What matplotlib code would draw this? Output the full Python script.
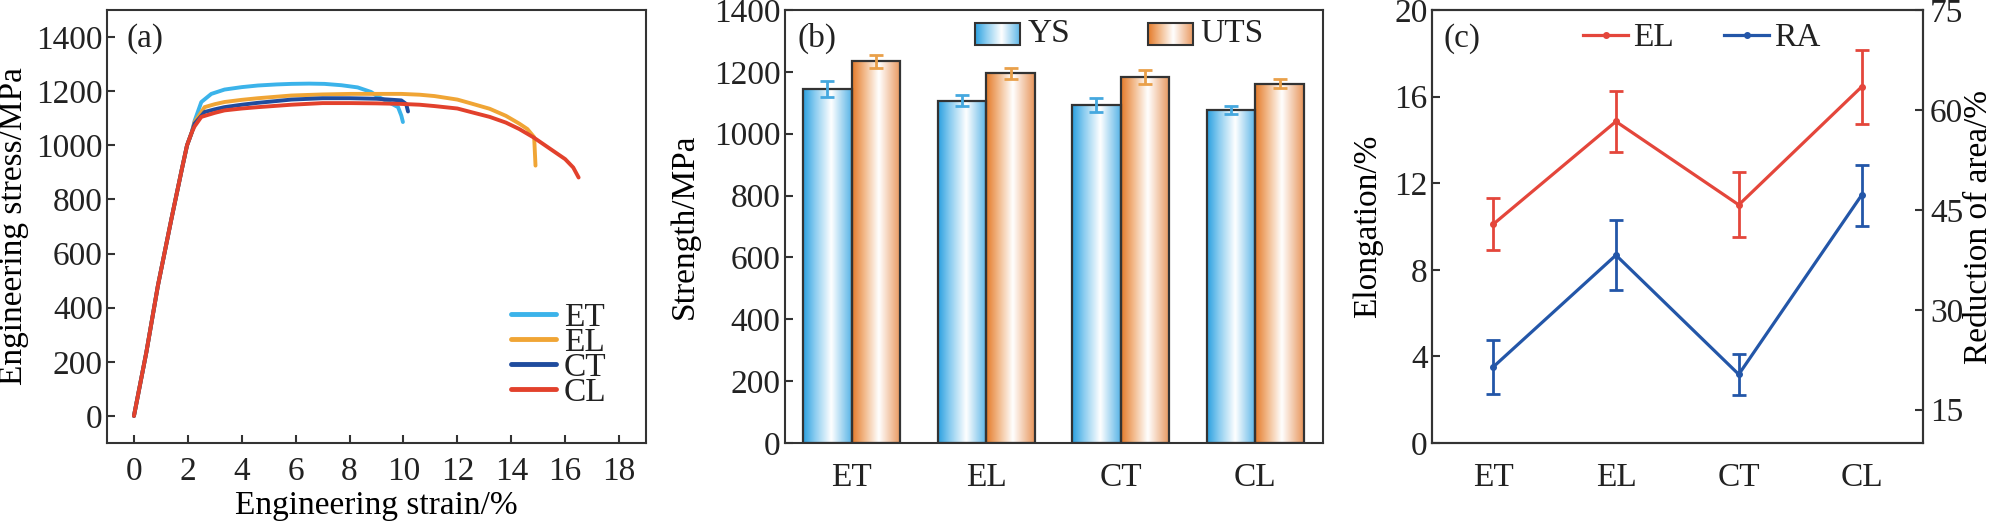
import numpy as np
import matplotlib
matplotlib.use("Agg")
import matplotlib.pyplot as plt
from matplotlib.colors import LinearSegmentedColormap
from matplotlib.patches import Rectangle
from matplotlib.lines import Line2D

plt.rcParams['font.family'] = ['Liberation Serif', 'DejaVu Serif']
plt.rcParams['font.size'] = 24
plt.rcParams['axes.linewidth'] = 1.5
plt.rcParams['axes.edgecolor'] = '#333333'
plt.rcParams['xtick.direction'] = 'in'
plt.rcParams['ytick.direction'] = 'in'
plt.rcParams['text.color'] = '#222222'
plt.rcParams['xtick.color'] = '#333333'
plt.rcParams['ytick.color'] = '#333333'
plt.rcParams['xtick.labelcolor'] = '#222222'
plt.rcParams['ytick.labelcolor'] = '#222222'

# ---------------- data (a) ----------------
elastic_strain = [0.0, 0.46, 0.89, 1.39, 1.78, 1.97, 2.15]
elastic_stress = [0, 235, 482, 728, 913, 1000, 1049]

et_strain = [2.25, 2.5, 2.87, 3.36, 4.0, 4.6, 5.3, 5.84, 6.5, 7.07, 7.7, 8.3, 8.8, 9.05, 9.4, 9.8, 9.92, 9.98]
et_stress = [1090, 1160, 1190, 1206, 1215, 1221, 1225, 1227, 1228, 1227, 1222, 1214, 1197, 1180, 1162, 1141, 1110, 1086]

el_strain = [2.25, 2.62, 3.0, 3.36, 4.0, 4.6, 5.84, 7.0, 8.06, 9.0, 9.92, 10.6, 11.15, 12.0, 12.5, 13.2, 13.8, 14.3, 14.6, 14.85, 14.9]
el_stress = [1085, 1141, 1152, 1160, 1168, 1174, 1184, 1188, 1190, 1190, 1190, 1187, 1182, 1169, 1155, 1135, 1109, 1080, 1060, 1030, 925]

ct_strain = [2.25, 2.62, 3.0, 3.36, 4.0, 4.6, 5.84, 7.0, 8.0, 9.0, 9.92, 10.1, 10.17]
ct_stress = [1080, 1123, 1133, 1141, 1150, 1157, 1169, 1174, 1174, 1172, 1166, 1153, 1125]

cl_strain = [2.25, 2.5, 3.0, 3.36, 4.0, 4.6, 5.84, 7.0, 8.06, 9.0, 9.92, 10.6, 11.15, 12.0, 12.5, 13.2, 13.8, 14.3, 14.83, 15.4, 16.0, 16.3, 16.5]
cl_stress = [1070, 1105, 1120, 1129, 1136, 1141, 1150, 1156, 1156, 1155, 1153, 1150, 1145, 1136, 1123, 1105, 1084, 1060, 1029, 990, 949, 918, 881]

curve_names = ['ET', 'EL', 'CT', 'CL']
curve_colors = ['#3bb3ea', '#f0a535', '#1f4c9e', '#e2412c']

# ---------------- data (b) ----------------
categories = ['ET', 'EL', 'CT', 'CL']
ys_values = [1145, 1107, 1093, 1077]
ys_errors = [25, 18, 23, 14]
uts_values = [1234, 1195, 1183, 1162]
uts_errors = [22, 17, 22, 14]

# ---------------- data (c) ----------------
elong_values = [10.1, 14.85, 11.0, 16.45]
elong_errors = [1.2, 1.4, 1.5, 1.7]
ra_values = [21.4, 38.2, 20.3, 47.2]
ra_errors = [4.0, 5.3, 3.05, 4.6]

# ---------------- figure ----------------
fig = plt.figure(figsize=(19.94, 5.21), dpi=100)
ax_a = fig.add_axes([107/1994, 1-443/521, 539/1994, 433/521])
ax_b = fig.add_axes([784.5/1994, 1-443/521, 538/1994, 433/521])
ax_c = fig.add_axes([1431.7/1994, 1-443/521, 491.3/1994, 433/521])

# ---- (a)
curves = [(et_strain, et_stress), (el_strain, el_stress), (ct_strain, ct_stress), (cl_strain, cl_stress)]
for (sx, sy), name, col in zip(curves, curve_names, curve_colors):
    x = list(elastic_strain) + list(sx)
    y = list(elastic_stress) + list(sy)
    ax_a.plot(x, y, color=col, lw=2.8, label=name, solid_capstyle='round', solid_joinstyle='round')
ax_a.set_xlim(-1, 19)
ax_a.set_ylim(-100, 1500)
ax_a.set_xticks(np.arange(0, 19, 2))
ax_a.set_yticks(np.arange(0, 1401, 200))
ax_a.tick_params(axis='both', length=6, width=1.5)
ax_a.tick_params(axis='x', pad=10)
ax_a.tick_params(axis='y', pad=3)
ax_a.set_xlabel('Engineering strain/%')
ax_a.set_ylabel('Engineering stress/MPa')
ax_a.yaxis.set_label_coords(-0.145, 0.5)
ax_a.xaxis.set_label_coords(0.5, -0.11)
ax_a.text(0.037, 0.935, '(a)', transform=ax_a.transAxes, ha='left', va='center')
leg = ax_a.legend(loc='lower right', bbox_to_anchor=(0.97, 0.028), frameon=False,
                  handlelength=1.35, handletextpad=0.25, labelspacing=-0.17, borderpad=0.2)
for l in leg.get_lines():
    l.set_linewidth(3.5)

# ---- (b)
blue_cmap = LinearSegmentedColormap.from_list('bl', [(0, '#2aa0e0'), (0.25, '#8ccdf0'), (0.58, '#ffffff'), (1.0, '#56b3e6')])
orange_cmap = LinearSegmentedColormap.from_list('or', [(0, '#e47a2a'), (0.25, '#f2b888'), (0.55, '#ffffff'), (1.0, '#e8955a')])
grad = np.linspace(0, 1, 256).reshape(1, -1)

xpos = np.arange(len(categories))
w = 0.362
bars_ys = ax_b.bar(xpos - w/2, ys_values, w, facecolor='none', edgecolor='#333333', lw=1.6, zorder=3)
bars_uts = ax_b.bar(xpos + w/2, uts_values, w, facecolor='none', edgecolor='#333333', lw=1.6, zorder=3)
for bars, cm in ((bars_ys, blue_cmap), (bars_uts, orange_cmap)):
    for b in bars:
        x0, y0, bw, bh = b.get_x(), b.get_y(), b.get_width(), b.get_height()
        ax_b.imshow(grad, extent=[x0, x0 + bw, y0, y0 + bh], aspect='auto', cmap=cm,
                    interpolation='bicubic', zorder=2)
ax_b.errorbar(xpos - w/2, ys_values, yerr=ys_errors, fmt='none', ecolor='#45a8df', elinewidth=2, capsize=5, capthick=2, zorder=4)
ax_b.errorbar(xpos + w/2, uts_values, yerr=uts_errors, fmt='none', ecolor='#e9a04a', elinewidth=2, capsize=5, capthick=2, zorder=4)
ax_b.set_yticks(np.arange(0, 1401, 200))
ax_b.set_xticks(xpos)
ax_b.set_xticklabels(categories)
ax_b.tick_params(axis='x', length=0, pad=14)
ax_b.tick_params(axis='y', length=6, width=1.5, pad=3)
ax_b.set_ylabel('Strength/MPa')
ax_b.yaxis.set_label_coords(-0.157, 0.5)
ax_b.text(0.025, 0.935, '(b)', transform=ax_b.transAxes, ha='left', va='center')
# legend with gradient patches
for (lx0, lx1, tx, lab, cm) in ((0.354, 0.438, 0.452, 'YS', blue_cmap), (0.675, 0.759, 0.773, 'UTS', orange_cmap)):
    ax_b.imshow(grad, extent=[lx0, lx1, 0.919, 0.970], aspect='auto', cmap=cm,
                transform=ax_b.transAxes, interpolation='bicubic', zorder=5)
    ax_b.add_patch(Rectangle((lx0, 0.919), lx1 - lx0, 0.051, transform=ax_b.transAxes,
                             facecolor='none', edgecolor='#333333', lw=1.5, zorder=6))
    ax_b.text(tx, 0.945, lab, transform=ax_b.transAxes, ha='left', va='center')
ax_b.set_xlim(-0.5, 3.5)
ax_b.set_ylim(0, 1400)

# ---- (c)
red = '#e4463b'
blue = '#2356a8'
ax_c2 = ax_c.twinx()
ax_c.errorbar(xpos, elong_values, yerr=elong_errors, color=red, lw=2.3, marker='o', ms=4,
              capsize=5, capthick=2, elinewidth=2)
ax_c2.errorbar(xpos, ra_values, yerr=ra_errors, color=blue, lw=2.3, marker='o', ms=4,
               capsize=5, capthick=2, elinewidth=2)
ax_c.set_xlim(-0.5, 3.5)
ax_c.set_ylim(0, 20)
ax_c.set_yticks(np.arange(0, 21, 4))
ax_c2.set_ylim(10, 75)
ax_c2.set_yticks(np.arange(15, 76, 15))
ax_c.set_xticks(xpos)
ax_c.set_xticklabels(categories)
ax_c.tick_params(axis='x', length=0, pad=14)
ax_c.tick_params(axis='y', length=6, width=1.5, pad=3)
ax_c2.tick_params(axis='y', length=6, width=1.5, pad=5)
ax_c.set_ylabel('Elongation/%')
ax_c.yaxis.set_label_coords(-0.099, 0.5)
ax_c2.set_ylabel('Reduction of area/%')
ax_c2.yaxis.set_label_coords(1.082, 0.5)
ax_c.text(0.025, 0.935, '(c)', transform=ax_c.transAxes, ha='left', va='center')
handles = [Line2D([], [], color=red, lw=2.3, marker='o', ms=4),
           Line2D([], [], color=blue, lw=2.3, marker='o', ms=4)]
ax_c.legend(handles, ['EL', 'RA'], loc='center', bbox_to_anchor=(0.55, 0.935), ncol=2, frameon=False,
            handlelength=1.35, handletextpad=0.15, columnspacing=1.5, borderpad=0.1)

fig.savefig('out.png', dpi=100)
